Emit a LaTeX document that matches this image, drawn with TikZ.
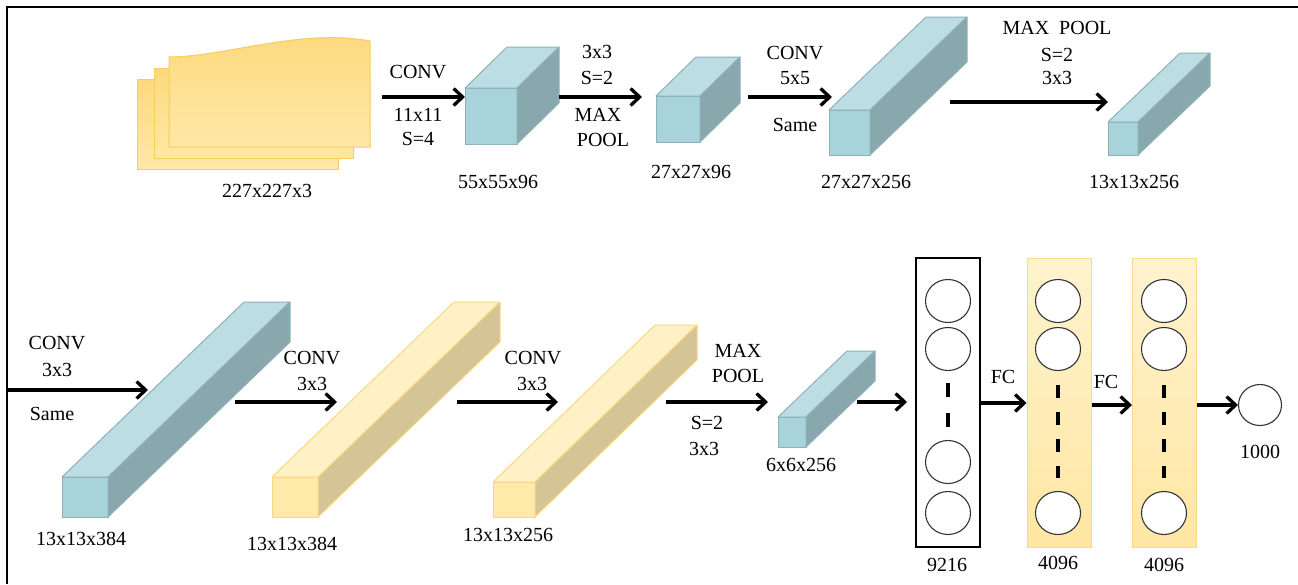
\documentclass[tikz,border=0pt]{standalone}
\usepackage{fontspec}
\setmainfont{Liberation Serif}
\usetikzlibrary{arrows.meta,shapes.geometric}
\definecolor{cfront}{HTML}{A9D3DA}
\definecolor{ctop}{HTML}{BBDDE3}
\definecolor{cside}{HTML}{88A8AD}
\definecolor{cedge}{HTML}{8DB2B8}
\definecolor{yfront}{HTML}{FFEAA9}
\definecolor{ytop}{HTML}{FFF1C6}
\definecolor{yside}{HTML}{D4C496}
\definecolor{yedge}{HTML}{F7DA80}
\definecolor{stop}{HTML}{FDD97C}
\definecolor{sbot}{HTML}{FEE8A6}
\definecolor{sedge}{HTML}{F5CE5E}
\definecolor{fctop}{HTML}{FFF3CF}
\definecolor{fcbot}{HTML}{FFE6A2}
\definecolor{fcedge}{HTML}{F8DA8A}
% #1 x1, #2 y1 (top), #3 x2, #4 y2 (bottom), #5 dx, #6 dy, #7 colour prefix, #8 name
\newcommand\cuboid[8]{%
  \filldraw[fill=#7front,draw=#7edge,line width=1pt] (#1,#2) rectangle (#3,#4);
  \filldraw[fill=#7top,draw=#7edge,line width=1pt,line join=round]
    (#1,#2) -- ({#1+#5},{#2+#6}) -- ({#3+#5},{#2+#6}) -- (#3,#2) -- cycle;
  \filldraw[fill=#7side,draw=#7edge,line width=1pt,line join=round]
    (#3,#2) -- ({#3+#5},{#2+#6}) -- ({#3+#5},{#4+#6}) -- (#3,#4) -- cycle;
  \coordinate (#8) at (#1,#4);
}
\begin{document}
\begin{tikzpicture}[x=1pt,y=-1pt,
  every node/.style={font=\fontsize{20}{22}\selectfont, inner sep=0pt},
  arr/.style={line width=3.3pt, -{Straight Barb[length=9pt,width=17pt]}},
  sheet/.style={top color=stop, bottom color=sbot, draw=sedge, line width=1pt},
  fcbox/.style={draw=fcedge, line width=1pt, top color=fctop, bottom color=fcbot, minimum width=64pt, minimum height=289pt},
  neuron/.style={ellipse, draw=black!80, line width=1.1pt, fill=white, minimum width=45pt, minimum height=43pt},
  dots/.style={line width=3.5pt}]
\useasboundingbox (0,0) rectangle (1298,584);
\fill[white] (0,0) rectangle (1298,584);
% frame
\draw[line width=2pt] (7,584) -- (7,7) -- (1298,7);

% input stack
\path[sheet] (137,79) rectangle (338,169);
\path[sheet] (154,68) rectangle (353,158);
\path[sheet] (169,147) -- (370,147) -- (370,41) .. controls (300,28) and (225,57) .. (169,57) -- cycle;
\node (in) at (267,191) {227x227x3};
\coordinate (inR) at (382,97);

% top row
\cuboid{465}{88}{517}{144}{42}{-41}{c}{b1}
\cuboid{656}{96}{700}{142}{40}{-39}{c}{b2}
\cuboid{829}{110}{870}{155}{97}{-93}{c}{b3}
\cuboid{1108}{122}{1138}{155}{72}{-69}{c}{b4}

\coordinate (a1e) at (465,97);
\coordinate (a2s) at (559,97);
\coordinate (a2e) at (642,97);
\coordinate (a3s) at (748,97);
\coordinate (a3e) at (832,97);
\coordinate (a4s) at (950,102);
\coordinate (a4e) at (1108,102);
\draw[arr] (inR) -- (a1e);
\draw[arr] (a2s) -- (a2e);
\draw[arr] (a3s) -- (a3e);
\draw[arr] (a4s) -- (a4e);

\node (t1a) at (418,72) {CONV};
\node (t1b) at (418,115) {11x11};
\node (t1c) at (418,139) {S=4};
\node (l1) at (498,182) {55x55x96};
\node (t2a) at (597,52) {3x3};
\node (t2b) at (597,78) {S=2};
\node (t2c) at (598,115) {MAX};
\node (t2d) at (603,140) {POOL};
\node (l2) at (691,172) {27x27x96};
\node (t3a) at (795,53) {CONV};
\node (t3b) at (795,78) {5x5};
\node (t3c) at (795,125) {Same};
\node (l3) at (866,182) {27x27x256};
\node (t4a) at (1057,28) {MAX\ \ POOL};
\node (t4b) at (1057,55) {S=2};
\node (t4c) at (1057,78) {3x3};
\node (l4) at (1134,182) {13x13x256};

% bottom row
\coordinate (a5s) at (8,390);
\coordinate (a5e) at (148,390);
\draw[arr] (a5s) -- (a5e);
\cuboid{62}{477}{108}{517}{182}{-175}{c}{b5}
\cuboid{272}{477}{318}{517}{182}{-175}{y}{b6}
\cuboid{493}{482}{535}{517}{162}{-157}{y}{b7}
\cuboid{778}{417}{806}{447}{69}{-66}{c}{b8}

\coordinate (a6s) at (235,402);
\coordinate (a6e) at (337,402);
\coordinate (a7s) at (457,402);
\coordinate (a7e) at (558,402);
\coordinate (a8s) at (666,402);
\coordinate (a8e) at (768,402);
\coordinate (a9s) at (857,402);
\coordinate (a9e) at (907,402);
\draw[arr] (a6s) -- (a6e);
\draw[arr] (a7s) -- (a7e);
\draw[arr] (a8s) -- (a8e);
\draw[arr] (a9s) -- (a9e);

\node (t5a) at (57,343) {CONV};
\node (t5b) at (57,370) {3x3};
\node (t5c) at (52,414) {Same};
\node (l5) at (81,539) {13x13x384};
\node (t6a) at (312,358) {CONV};
\node (t6b) at (312,384) {3x3};
\node (l6) at (292,544) {13x13x384};
\node (t7a) at (533,358) {CONV};
\node (t7b) at (532,384) {3x3};
\node (l7) at (508,535) {13x13x256};
\node (t8a) at (738,351) {MAX};
\node (t8b) at (738,376) {POOL};
\node (t8c) at (707,423) {S=2};
\node (t8d) at (704,449) {3x3};
\node (l8) at (801,465) {6x6x256};

% fully connected
\node[draw=black, line width=1.2pt, fill=white, minimum width=64pt, minimum height=289pt] (f1) at (948,402.5) {};
\node[fcbox] (f2) at (1059,402.5) {};
\node[fcbox] (f3) at (1164.5,402.5) {};

\node[neuron] (n1a) at (948,301) {};
\node[neuron] (n1b) at (948,349) {};
\node[neuron] (n1c) at (948,462) {};
\node[neuron] (n1d) at (948,513) {};
\draw[dots, dash pattern=on 14pt off 16pt] (948,383) -- (948,427);

\node[neuron] (n2a) at (1058,301) {};
\node[neuron] (n2b) at (1058,349) {};
\node[neuron] (n2c) at (1058,513) {};
\draw[dots, dash pattern=on 13pt off 14pt] (1058,385) -- (1058,478);

\node[neuron] (n3a) at (1164,301) {};
\node[neuron] (n3b) at (1164,349) {};
\node[neuron] (n3c) at (1164,513) {};
\draw[dots, dash pattern=on 13pt off 14pt] (1164,385) -- (1164,478);

\node[ellipse, draw=black!80, line width=1.1pt, fill=white, minimum width=43pt, minimum height=41pt] (out) at (1260,405) {};

\draw[arr] (f1.east |- 0,403) -- (f2.west |- 0,403);
\draw[arr] (f2.east |- 0,405) -- (f3.west |- 0,405);
\draw[arr] (f3.east |- out.west) -- (out.west);

\node (fc1) at (1003,377) {FC};
\node (fc2) at (1106,382) {FC};
\node (c1) at (947,565) {9216};
\node (c2) at (1058,563) {4096};
\node (c3) at (1164,565) {4096};
\node (c4) at (1260,452) {1000};
\end{tikzpicture}
\end{document}
